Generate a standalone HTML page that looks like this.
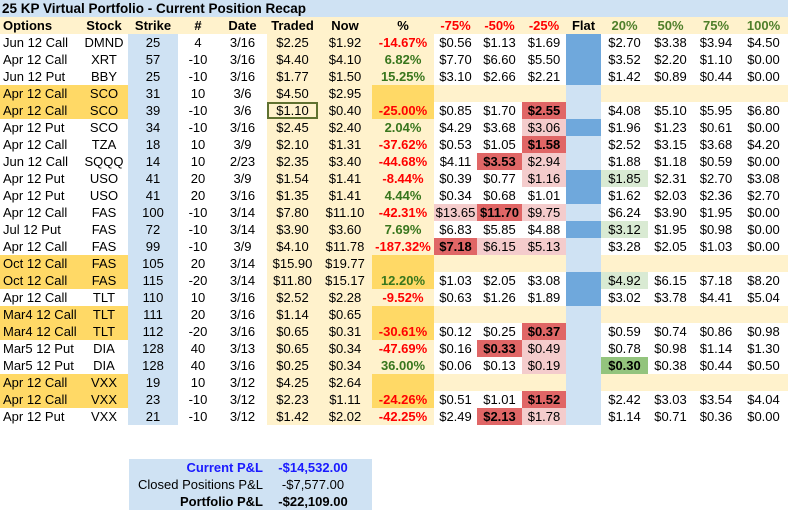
<!DOCTYPE html>
<html><head><meta charset="utf-8">
<style>
body{margin:0;width:788px;height:510px;background:#fff;position:relative;overflow:hidden;font-family:"Liberation Sans",Arial,sans-serif;font-size:13px;color:#000}
.c{position:absolute;height:17px;line-height:17px;text-align:center;white-space:nowrap;box-sizing:border-box}
</style></head>
<body>
<div class="c" style="left:0;top:0;width:788px;background:#cfe2f3;text-align:left;padding-left:2px;font-weight:bold;font-size:13.5px">25 KP Virtual Portfolio - Current Position Recap</div>
<div id="grid"></div>
<div style="position:absolute;left:129px;top:459px;width:243px;height:51px;background:#cfe2f3"></div>
<div class="c" style="left:129px;top:459px;width:134px;text-align:right;color:#1a1aff;font-weight:bold">Current P&amp;L</div>
<div class="c" style="left:263px;top:459px;width:100px;text-align:center;color:#1a1aff;font-weight:bold">-$14,532.00</div>
<div class="c" style="left:129px;top:476px;width:134px;text-align:right">Closed Positions P&amp;L</div>
<div class="c" style="left:263px;top:476px;width:100px;text-align:center">-$7,577.00</div>
<div class="c" style="left:129px;top:493px;width:134px;text-align:right;font-weight:bold">Portfolio P&amp;L</div>
<div class="c" style="left:263px;top:493px;width:100px;text-align:center;font-weight:bold">-$22,109.00</div>
<script>
const headers=["Options","Stock","Strike","#","Date","Traded","Now","%","-75%","-50%","-25%","Flat","20%","50%","75%","100%"];
const options=["Jun 12 Call","Apr 12 Call","Jun 12 Put","Apr 12 Call","Apr 12 Call","Apr 12 Put","Apr 12 Call","Jun 12 Call","Apr 12 Put","Apr 12 Put","Apr 12 Call","Jul 12 Put","Apr 12 Call","Oct 12 Call","Oct 12 Call","Apr 12 Call","Mar4 12 Call","Mar4 12 Call","Mar5 12 Put","Mar5 12 Put","Apr 12 Call","Apr 12 Call","Apr 12 Put"];
const stocks=["DMND","XRT","BBY","SCO","SCO","SCO","TZA","SQQQ","USO","USO","FAS","FAS","FAS","FAS","FAS","TLT","TLT","TLT","DIA","DIA","VXX","VXX","VXX"];
const strikes=[25,57,25,31,39,34,18,14,41,41,100,72,99,105,115,110,111,112,128,128,19,23,21];
const qty=[4,-10,-10,10,-10,-10,10,10,20,20,-10,-10,-10,20,-20,10,20,-20,40,40,10,-10,-10];
const dates=["3/16","3/16","3/16","3/6","3/6","3/16","3/9","2/23","3/9","3/16","3/14","3/14","3/9","3/14","3/14","3/16","3/16","3/16","3/13","3/16","3/12","3/12","3/12"];
const traded=["$2.25","$4.40","$1.77","$4.50","$1.10","$2.45","$2.10","$2.35","$1.54","$1.35","$7.80","$3.90","$4.10","$15.90","$11.80","$2.52","$1.14","$0.65","$0.65","$0.25","$4.25","$2.23","$1.42"];
const now=["$1.92","$4.10","$1.50","$2.95","$0.40","$2.40","$1.31","$3.40","$1.41","$1.41","$11.10","$3.60","$11.78","$19.77","$15.17","$2.28","$0.65","$0.31","$0.34","$0.34","$2.64","$1.11","$2.02"];
const pct=["-14.67%","6.82%","15.25%","","-25.00%","2.04%","-37.62%","-44.68%","-8.44%","4.44%","-42.31%","7.69%","-187.32%","","12.20%","-9.52%","","-30.61%","-47.69%","36.00%","","-24.26%","-42.25%"];
const proj=[
["$0.56","$1.13","$1.69","$2.70","$3.38","$3.94","$4.50"],
["$7.70","$6.60","$5.50","$3.52","$2.20","$1.10","$0.00"],
["$3.10","$2.66","$2.21","$1.42","$0.89","$0.44","$0.00"],
null,
["$0.85","$1.70","$2.55","$4.08","$5.10","$5.95","$6.80"],
["$4.29","$3.68","$3.06","$1.96","$1.23","$0.61","$0.00"],
["$0.53","$1.05","$1.58","$2.52","$3.15","$3.68","$4.20"],
["$4.11","$3.53","$2.94","$1.88","$1.18","$0.59","$0.00"],
["$0.39","$0.77","$1.16","$1.85","$2.31","$2.70","$3.08"],
["$0.34","$0.68","$1.01","$1.62","$2.03","$2.36","$2.70"],
["$13.65","$11.70","$9.75","$6.24","$3.90","$1.95","$0.00"],
["$6.83","$5.85","$4.88","$3.12","$1.95","$0.98","$0.00"],
["$7.18","$6.15","$5.13","$3.28","$2.05","$1.03","$0.00"],
null,
["$1.03","$2.05","$3.08","$4.92","$6.15","$7.18","$8.20"],
["$0.63","$1.26","$1.89","$3.02","$3.78","$4.41","$5.04"],
null,
["$0.12","$0.25","$0.37","$0.59","$0.74","$0.86","$0.98"],
["$0.16","$0.33","$0.49","$0.78","$0.98","$1.14","$1.30"],
["$0.06","$0.13","$0.19","$0.30","$0.38","$0.44","$0.50"],
null,
["$0.51","$1.01","$1.52","$2.42","$3.03","$3.54","$4.04"],
["$2.49","$2.13","$1.78","$1.14","$0.71","$0.36","$0.00"]];
const hl=[
[0,0,0,0,0,0,0],[0,0,0,0,0,0,0],[0,0,0,0,0,0,0],null,
[0,0,2,0,0,0,0],[0,0,1,0,0,0,0],[0,0,2,0,0,0,0],[0,2,1,0,0,0,0],
[0,0,1,3,0,0,0],[0,0,0,0,0,0,0],[1,2,1,0,0,0,0],[0,0,0,3,0,0,0],
[2,1,1,0,0,0,0],null,[0,0,0,3,0,0,0],[0,0,0,0,0,0,0],null,
[0,0,2,0,0,0,0],[0,2,1,0,0,0,0],[0,0,1,4,0,0,0],null,
[0,0,2,0,0,0,0],[0,2,1,0,0,0,0]];
const closed=[0,0,0,1,1,0,0,0,0,0,0,0,0,1,1,0,1,1,0,0,1,1,0];
const flatDark=[1,1,1,0,0,1,0,0,1,1,0,1,0,0,1,1,0,0,0,0,0,0,0];

const edges=[0,80,128,178,218,267,318,372,434,477,522,566,601,648,693,739,788];
const g=document.getElementById('grid');
function cell(i,top,text,bg,style,name){
  const d=document.createElement('div');
  d.className='c';
  
  
  d.style.left=edges[i]+'px';d.style.top=top+'px';d.style.width=(edges[i+1]-edges[i])+'px';
  if(bg)d.style.background=bg;
  if(style)d.style.cssText+=style;
  d.textContent=text;g.appendChild(d);return d;
}
headers.forEach((h,i)=>{
  let col='#000';
  if(i>=8&&i<=10)col='#ff0000';
  if(i>=12)col='#4f7f2a';
  cell(i,17,h,'#fff2cc','font-weight:bold;color:'+col+(i==0?';text-align:left;padding-left:3px':''),'header-'+h.replace(/[^a-z0-9]/gi,'')+'-'+i);
});
const hlBg=['','#f4cccc','#e06666','#d9ead3','#93c47d'];
options.forEach((o,r)=>{
  const t=34+r*17;const cl=closed[r];
  cell(0,t,o,cl?'#ffd966':'','text-align:left;padding-left:3px','option-'+r);
  cell(1,t,stocks[r],cl?'#ffd966':'','','stock-'+r);
  cell(2,t,String(strikes[r]),'#cfe2f3','','strike-'+r);
  cell(3,t,String(qty[r]),'','','qty-'+r);
  cell(4,t,dates[r],'','','date-'+r);
  const tc=cell(5,t,traded[r],'#fff2cc','','traded-'+r);
  if(r===4){tc.style.border='2px solid #5f7130';tc.style.lineHeight='13px';}
  cell(6,t,now[r],'#fff2cc','','now-'+r);
  const neg=pct[r].startsWith('-');
  cell(7,t,pct[r],cl?'#ffd966':'#fff2cc','font-weight:bold;color:'+(neg?'#ff0000':'#38761d'),'pct-'+r);
  const p=proj[r];
  const cols=[8,9,10,12,13,14,15];
  cols.forEach((ci,k)=>{
    if(!p){cell(ci,t,'','#fff2cc','','proj-empty-'+r+'-'+k);return;}
    const h=hl[r][k];
    cell(ci,t,p[k],hlBg[h],(h==2||h==4)?'font-weight:bold':'','proj-'+r+'-'+k);
  });
  cell(11,t,'',flatDark[r]?'#6fa8dc':'#cfe2f3','','flat-'+r);
});
</script>
</body></html>
